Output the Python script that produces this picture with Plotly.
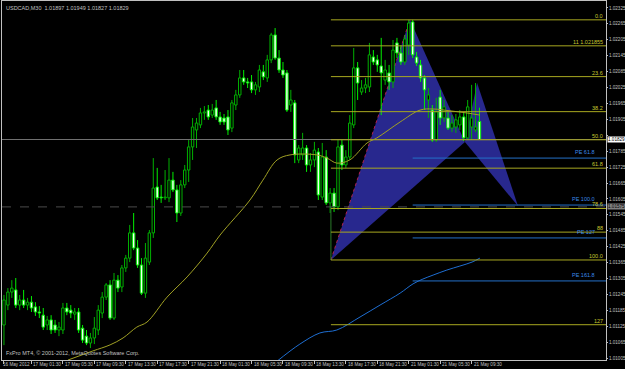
import plotly.graph_objects as go

# ---------------- data ----------------
bar_index = list(range(122))
open_p = [1.01130,1.01205,1.01254,1.01262,1.01205,1.01224,1.01205,1.01216,1.01198,1.01179,
          1.01167,1.01130,1.01149,1.01130,1.01111,1.01111,1.01194,1.01186,1.01171,1.01179,
          1.01118,1.01088,1.01062,1.01081,1.01111,1.01175,1.01235,1.01281,1.01156,1.01299,
          1.01273,1.01345,1.01382,1.01477,1.01420,1.01356,1.01250,1.01367,1.01477,1.01650,
          1.01612,1.01609,1.01609,1.01676,1.01639,1.01552,1.01658,1.01714,1.01801,1.01865,
          1.01884,1.01929,1.01940,1.01921,1.01948,1.01914,1.01910,1.01914,1.01872,1.01959,
          1.01997,1.02061,1.02046,1.02046,1.02016,1.02027,1.02084,1.02061,1.02129,1.02223,
          1.02136,1.02091,1.02080,1.01959,1.01967,1.01752,1.01771,1.01797,1.01733,1.01752,
          1.01782,1.01612,1.01763,1.01590,1.01627,1.01575,1.01808,1.01733,1.01763,1.01884,
          1.02099,1.02008,1.02023,1.02027,1.02140,1.02129,1.02106,1.02053,1.02080,1.02046,
          1.02193,1.02155,1.02121,1.02185,1.02272,1.02140,1.02110,1.02061,1.01978,1.01940,
          1.01827,1.01989,1.01910,1.01910,1.01872,1.01876,1.01884,1.01914,1.01835,1.01876,
          1.01865,1.01897]
high_p = [1.01243,1.01269,1.01299,1.01307,1.01243,1.01262,1.01232,1.01239,1.01216,1.01201,
          1.01194,1.01164,1.01167,1.01149,1.01141,1.01213,1.01213,1.01205,1.01194,1.01194,
          1.01130,1.01111,1.01100,1.01160,1.01205,1.01254,1.01288,1.01299,1.01326,1.01318,
          1.01356,1.01394,1.01507,1.01552,1.01450,1.01382,1.01439,1.01488,1.01759,1.01722,
          1.01658,1.01714,1.01759,1.01707,1.01658,1.01676,1.01733,1.01827,1.01910,1.01910,
          1.01948,1.01955,1.01959,1.01963,1.01978,1.01933,1.01925,1.01940,1.01978,1.02016,
          1.02091,1.02091,1.02061,1.02072,1.02046,1.02110,1.02110,1.02148,1.02231,1.02249,
          1.02166,1.02121,1.02091,1.02016,1.01978,1.01808,1.01854,1.01808,1.01778,1.01820,
          1.01797,1.01816,1.01789,1.01646,1.01646,1.01827,1.01827,1.01789,1.01921,1.02174,
          1.02121,1.02053,1.02061,1.02193,1.02166,1.02148,1.02212,1.02129,1.02110,1.02204,
          1.02212,1.02185,1.02223,1.02280,1.02280,1.02159,1.02129,1.02072,1.02023,1.01959,
          1.01986,1.02016,1.01978,1.01933,1.01921,1.01925,1.01940,1.01933,1.01978,1.02035,
          1.02042,1.01949]
low_p = [1.01054,1.01186,1.01232,1.01194,1.01186,1.01194,1.01186,1.01179,1.01164,1.01156,
         1.01111,1.01111,1.01096,1.01100,1.01088,1.01096,1.01167,1.01156,1.01149,1.01100,
         1.01062,1.01054,1.01043,1.01058,1.01092,1.01156,1.01224,1.01149,1.01149,1.01254,
         1.01254,1.01330,1.01367,1.01412,1.01345,1.01243,1.01232,1.01356,1.01458,1.01601,
         1.01590,1.01601,1.01593,1.01631,1.01518,1.01541,1.01646,1.01669,1.01752,1.01797,
         1.01872,1.01903,1.01903,1.01910,1.01903,1.01884,1.01884,1.01846,1.01857,1.01940,
         1.01986,1.02035,1.02023,1.02004,1.01997,1.02008,1.02053,1.02046,1.02117,1.02129,
         1.02080,1.02061,1.01933,1.01933,1.01740,1.01740,1.01752,1.01707,1.01707,1.01725,
         1.01601,1.01601,1.01582,1.01552,1.01556,1.01563,1.01714,1.01722,1.01752,1.01872,
         1.01978,1.01997,1.02004,1.02008,1.02110,1.02084,1.01921,1.02035,1.02016,1.02023,
         1.02136,1.02110,1.02110,1.02148,1.02136,1.02106,1.02046,1.01940,1.01910,1.01820,
         1.01820,1.01884,1.01895,1.01865,1.01857,1.01854,1.01865,1.01823,1.01827,1.01827,
         1.01857,1.01827]
close_p = [1.01224,1.01254,1.01269,1.01205,1.01224,1.01205,1.01216,1.01194,1.01179,1.01175,
           1.01122,1.01149,1.01111,1.01111,1.01122,1.01194,1.01179,1.01175,1.01179,1.01111,
           1.01073,1.01062,1.01081,1.01118,1.01186,1.01235,1.01281,1.01156,1.01299,1.01269,
           1.01345,1.01382,1.01477,1.01420,1.01356,1.01250,1.01382,1.01477,1.01646,1.01609,
           1.01609,1.01612,1.01676,1.01639,1.01552,1.01658,1.01714,1.01801,1.01876,1.01891,
           1.01929,1.01933,1.01914,1.01940,1.01914,1.01895,1.01895,1.01865,1.01967,1.01997,
           1.02061,1.02046,1.02042,1.02016,1.02035,1.02091,1.02065,1.02129,1.02223,1.02136,
           1.02091,1.02072,1.01940,1.01978,1.01771,1.01797,1.01797,1.01733,1.01752,1.01789,
           1.01620,1.01763,1.01590,1.01627,1.01575,1.01801,1.01733,1.01763,1.01891,1.02099,
           1.02042,1.02023,1.02035,1.02148,1.02121,1.02110,1.02080,1.02091,1.02046,1.02166,
           1.02155,1.02121,1.02208,1.02268,1.02148,1.02117,1.02061,1.02016,1.01997,1.01827,
           1.01933,1.01910,1.01952,1.01872,1.01891,1.01903,1.01914,1.01835,1.01952,1.01910,
           1.01876,1.01829]

# moving averages (read at bar positions)
ma_slow_idx = [16.3,22.6,27.0,30.3,33.8,36.4,41.5,46.6,51.7,55.0,62.6,65.9,69.5,72.8,79.6,
               82.2,84.7,88.0,92.4,94.9,100.8,105.9,109.2,113.5,117.8,121.1]
ma_slow_val = [1.00998,1.01032,1.01055,1.01081,1.01122,1.01141,1.01235,1.01311,1.01401,1.01469,
               1.01601,1.01676,1.01752,1.01771,1.01771,1.01759,1.01740,1.01752,1.01816,1.01835,
               1.01895,1.01940,1.01944,1.01937,1.01929,1.01921]
ma_long_idx = [69.2,75.3,80.4,84.7,90.6,95.7,100.8,104.1,106.6,109.2,112.7,116.0,119.1,121.1]
ma_long_val = [1.00990,1.01058,1.01100,1.01111,1.01160,1.01205,1.01250,1.01285,1.01303,1.01318,
               1.01337,1.01352,1.01367,1.01382]

# harmonic pattern points X, A, B, C, D
pat_idx = [83.2, 103.3, 117.3, 120.4, 130.8]
pat_price = [1.01375, 1.02280, 1.01820, 1.02042, 1.01578]

# fibonacci retracement levels
fib_labels = ["0.0", "11 1.021855", "23.6", "38.2", "50.0", "61.8", "78.6", "88", "100.0", "127"]
fib_prices = [1.02280, 1.02182, 1.02066, 1.01934, 1.01828, 1.01721, 1.01569, 1.01480, 1.01375, 1.01131]
# projection levels
pe_labels = ["PE 61.8", "PE 100.0", "PE 127", "PE 161.8"]
pe_prices = [1.01759, 1.01582, 1.01458, 1.01296]

tick_bars = [0, 7, 15, 23, 31, 39, 47, 55, 63, 71, 79, 87, 95, 103, 111, 119]
tick_text = ["16 May 2012", "17 May 01:30", "17 May 05:30", "17 May 09:30", "17 May 13:30",
             "17 May 17:30", "17 May 21:30", "18 May 01:30", "18 May 05:30", "18 May 09:30",
             "18 May 13:30", "18 May 17:30", "18 May 21:30", "21 May 01:30", "21 May 05:30",
             "21 May 09:30"]
price_ticks = [1.01005, 1.01065, 1.01125, 1.01185, 1.01245, 1.01305, 1.01365, 1.01425, 1.01485,
               1.01545, 1.01605, 1.01665, 1.01725, 1.01785, 1.01845, 1.01905, 1.01965, 1.02025,
               1.02085, 1.02145, 1.02205, 1.02265, 1.02325]
bid_price = 1.01829
stop_price = 1.01575

X_RANGE = [-0.5, 153.2]
Y_RANGE = [1.00998, 1.02351]
FONT = "Liberation Sans, Arial, sans-serif"
FG = "#c0c0c0"
FIB_COLOR = "#a8a820"
PE_COLOR = "#2470c8"
BULL_LINE = "#00b000"
BEAR_LINE = "#00f000"

fig = go.Figure()

# ---- candles: bodies as bars, wicks as line segments ----
def split(cond):
    xs, base, hgt = [], [], []
    wx, wy = [], []
    for i, o, h, l, c in zip(bar_index, open_p, high_p, low_p, close_p):
        if cond(o, c):
            top, bot = max(o, c), min(o, c)
            xs.append(i)
            base.append(bot)
            hgt.append(max(top - bot, 0.00001))
            wx += [i, i, None, i, i, None]
            wy += [h, top, None, bot, l, None]
    return xs, base, hgt, wx, wy

for cond, fill, lc in [(lambda o, c: c >= o, "black", BULL_LINE),
                       (lambda o, c: c < o, "#f4fff4", BEAR_LINE)]:
    xs, base, hgt, wx, wy = split(cond)
    fig.add_trace(go.Bar(x=xs, y=hgt, base=base, width=0.62,
                         marker=dict(color=fill, line=dict(color=lc, width=1)),
                         hoverinfo="skip"))
    fig.add_trace(go.Scatter(x=wx, y=wy, mode="lines", line=dict(color=lc, width=1),
                             hoverinfo="skip", connectgaps=False))

# moving averages
fig.add_trace(go.Scatter(x=ma_slow_idx, y=ma_slow_val, mode="lines", line_shape="spline",
                         line=dict(color="#a0a024", width=1), hoverinfo="skip"))
fig.add_trace(go.Scatter(x=ma_long_idx, y=ma_long_val, mode="lines", line_shape="spline",
                         line=dict(color="#1e6ed2", width=1), hoverinfo="skip"))

shapes = []
annotations = []
# pattern triangles (behind the candles)
tri1 = "M {},{} L {},{} L {},{} Z".format(pat_idx[0], pat_price[0], pat_idx[1], pat_price[1],
                                          pat_idx[2], pat_price[2])
tri2 = "M {},{} L {},{} L {},{} Z".format(pat_idx[2], pat_price[2], pat_idx[3], pat_price[3],
                                          pat_idx[4], pat_price[4])
for p in (tri1, tri2):
    shapes.append(dict(type="path", path=p, xref="x", yref="y", fillcolor="#28288e",
                       line=dict(width=0), layer="below"))
shapes.append(dict(type="line", xref="x", yref="y", x0=pat_idx[0], y0=pat_price[0],
                   x1=pat_idx[1], y1=pat_price[1], layer="below",
                   line=dict(color="#b02050", width=1, dash="dot")))

# bid and stop lines
shapes.append(dict(type="line", xref="x", yref="y", x0=X_RANGE[0], x1=X_RANGE[1],
                   y0=stop_price, y1=stop_price, line=dict(color="#4a4a4a", width=1, dash="dash")))
shapes.append(dict(type="line", xref="x", yref="y", x0=X_RANGE[0], x1=X_RANGE[1],
                   y0=bid_price, y1=bid_price, line=dict(color="#707070", width=1)))
# fib vertical
shapes.append(dict(type="line", xref="x", yref="y", x0=pat_idx[0], x1=pat_idx[0],
                   y0=fib_prices[-2], y1=stop_price, line=dict(color="#2a7a2a", width=1)))
for lab, p in zip(fib_labels, fib_prices):
    shapes.append(dict(type="line", xref="x", yref="y", x0=pat_idx[0], x1=X_RANGE[1],
                       y0=p, y1=p, line=dict(color=FIB_COLOR, width=1)))
    annotations.append(dict(x=0.996, xref="paper", y=p, yref="y", text=lab, showarrow=False,
                            xanchor="right", yanchor="bottom", borderpad=0,
                            font=dict(size=5.5, color="#c8c830", family=FONT)))
for lab, p in zip(pe_labels, pe_prices):
    shapes.append(dict(type="line", xref="x", yref="y", x0=104, x1=X_RANGE[1],
                       y0=p, y1=p, line=dict(color=PE_COLOR, width=1)))
    annotations.append(dict(x=0.984, xref="paper", y=p, yref="y", text=lab, showarrow=False,
                            xanchor="right", yanchor="bottom", borderpad=0, yshift=2,
                            font=dict(size=5.5, color="#3a8ae8", family=FONT)))

# x labels (left aligned at tick as in MT4)
for k, (b, t) in enumerate(zip(tick_bars, tick_text)):
    annotations.append(dict(x=b, xref="x", y=0, yref="paper", yshift=-1,
                            xshift=(-2 if k == 0 else 1), text=t,
                            showarrow=False, xanchor="left", yanchor="top", borderpad=0,
                            font=dict(size=4.6, color=FG, family=FONT)))

# price boxes on the axis
annotations.append(dict(x=1, xref="paper", y=bid_price, yref="y", text=f"{bid_price:.5f}",
                        showarrow=False, xanchor="left", yanchor="middle", xshift=1,
                        bgcolor="white", borderpad=0, font=dict(size=4.6, color="black", family=FONT)))
annotations.append(dict(x=1, xref="paper", y=stop_price, yref="y", text=f"{stop_price:.5f}",
                        showarrow=False, xanchor="left", yanchor="middle", xshift=1,
                        bgcolor="#808080", borderpad=0, font=dict(size=4.6, color="black", family=FONT)))

# header and copyright
annotations.append(dict(x=0.004, xref="paper", y=0.995, yref="paper",
                        text="USDCAD,M30  1.01897 1.01949 1.01827 1.01829", showarrow=False,
                        xanchor="left", yanchor="top", font=dict(size=5.5, color=FG, family=FONT)))
annotations.append(dict(x=0.004, xref="paper", y=0.005, yref="paper",
                        text="FxPro MT4, © 2001-2012, MetaQuotes Software Corp.", showarrow=False,
                        xanchor="left", yanchor="bottom", font=dict(size=5.5, color=FG, family=FONT)))

# tick texts hidden behind the two price boxes
tick_labels = [("" if (abs(v - bid_price) < 0.0002 or abs(v - stop_price) < 0.0002)
                else f"{v:.5f}") for v in price_ticks]

fig.update_layout(
    width=625, height=369,
    margin=dict(l=2, r=19, t=1, b=9, autoexpand=False),
    paper_bgcolor="black", plot_bgcolor="black",
    showlegend=False, barmode="overlay",
    shapes=shapes, annotations=annotations,
    xaxis=dict(range=X_RANGE, showgrid=False, zeroline=False,
               tickvals=tick_bars, showticklabels=False, ticks="outside", ticklen=3,
               tickcolor=FG, showline=True, linecolor=FG, linewidth=1, mirror=True,
               automargin=False),
    yaxis=dict(range=Y_RANGE, side="right", showgrid=False, zeroline=False,
               tickvals=price_ticks, ticktext=tick_labels,
               tickfont=dict(size=4.6, color=FG, family=FONT), ticks="outside", ticklen=1,
               tickcolor=FG, showline=True, linecolor=FG, linewidth=1, mirror=True,
               automargin=False),
)

fig.write_html("out.html")
